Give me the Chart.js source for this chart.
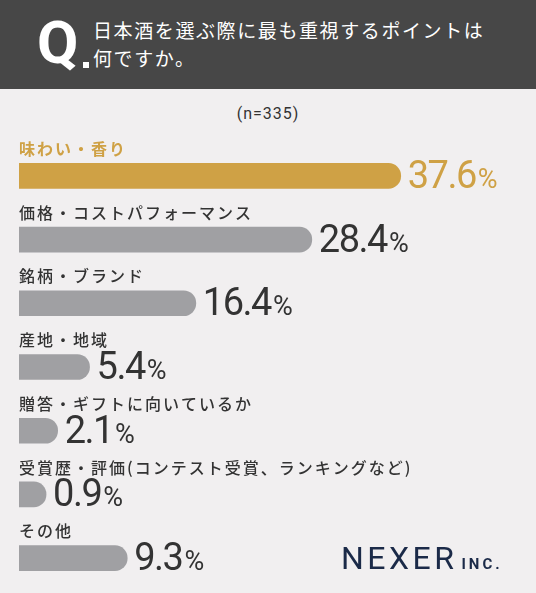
<!DOCTYPE html>
<html lang="ja">
<head>
<meta charset="utf-8">
<script src="https://cdn.jsdelivr.net/npm/chart.js@4.4.1/dist/chart.umd.min.js"></script>
<style>
  html, body { margin: 0; padding: 0; }
  body { width: 536px; height: 593px; background: #f1eff0; position: relative; overflow: hidden; font-family: "Noto Sans CJK JP", sans-serif; }
  .header { position: absolute; left: 0; top: 0; width: 536px; height: 89px; background: #474747; }
  .q { position: absolute; left: 37px; top: 8px; color: #fff; font: 700 60px Roboto, sans-serif; line-height: 70px; }
  .dot { position: absolute; left: 83px; top: 62px; width: 6px; height: 6px; background: #fff; }
  .title { position: absolute; left: 93px; top: 16px; color: #fff; font-size: 19px; line-height: 28px; letter-spacing: 1.6px; }
  .n { position: absolute; left: 0; width: 536px; top: 104px; text-align: center; color: #333; font: 400 16px Roboto, sans-serif; letter-spacing: 1px; }
  .logo { position: absolute; left: 341px; top: 541px; color: #1b2a48; font: 400 32px Roboto, sans-serif; letter-spacing: 3.5px; line-height: 34px; }
  .logo span { font-size: 15px; font-weight: 700; letter-spacing: 3px; margin-left: 4px; }
  canvas { position: absolute; left: 0; top: 0; }
</style>
</head>
<body>
<div class="header">
  <div class="q">Q</div>
  <div class="dot"></div>
  <div class="title">日本酒を選ぶ際に最も重視するポイントは<br>何ですか。</div>
</div>
<div class="n">(n=335)</div>
<canvas id="chart" width="536" height="593"></canvas>
<div class="logo">NEXER<span>INC.</span></div>
<script>
const categories = [
  '味わい・香り',
  '価格・コストパフォーマンス',
  '銘柄・ブランド',
  '産地・地域',
  '贈答・ギフトに向いているか',
  '受賞歴・評価(コンテスト受賞、ランキングなど)',
  'その他'
];
const percentages = [37.6, 28.4, 16.4, 5.4, 2.1, 0.9, 9.3];
const barColors = ['#cfa145', '#a0a0a3', '#a0a0a3', '#a0a0a3', '#a0a0a3', '#a0a0a3', '#a0a0a3'];
const textColors = ['#cfa145', '#333333', '#333333', '#333333', '#333333', '#333333', '#333333'];

const labelPlugin = {
  id: 'barLabels',
  afterDatasetsDraw(chart) {
    const ctx = chart.ctx;
    const meta = chart.getDatasetMeta(0);
    meta.data.forEach((bar, i) => {
      ctx.save();
      // category name above the bar
      ctx.fillStyle = textColors[i];
      ctx.font = (i === 0 ? '700' : '500') + ' 16px "Noto Sans CJK JP"';
      ctx.letterSpacing = '2px';
      ctx.textBaseline = 'middle';
      ctx.textAlign = 'left';
      ctx.fillText(categories[i], chart.chartArea.left, bar.y - 27);

      // value at the end of the bar
      const num = percentages[i].toFixed(1);
      ctx.textBaseline = 'alphabetic';
      ctx.font = '400 38px Roboto';
      ctx.letterSpacing = '-1.5px';
      const x0 = bar.x + 7;
      const baseY = bar.y + 12;
      ctx.fillText(num, x0, baseY);
      const w = ctx.measureText(num).width;
      ctx.font = '400 27px Roboto';
      ctx.letterSpacing = '0px';
      ctx.fillText('%', x0 + w + 2, baseY);
      ctx.restore();
    });
  }
};

new Chart(document.getElementById('chart'), {
  type: 'bar',
  data: {
    labels: categories,
    datasets: [{
      data: percentages,
      base: -1.9,
      backgroundColor: barColors,
      barThickness: 25,
      borderRadius: 13,
      borderSkipped: 'start'
    }]
  },
  options: {
    indexAxis: 'y',
    responsive: false,
    animation: false,
    layout: { padding: { left: 19, right: 0, top: 144, bottom: 3 } },
    scales: {
      x: { display: false, min: -1.9, max: 51.6 },
      y: { display: false }
    },
    plugins: {
      legend: { display: false },
      tooltip: { enabled: false }
    }
  },
  plugins: [labelPlugin]
});
</script>
</body>
</html>
